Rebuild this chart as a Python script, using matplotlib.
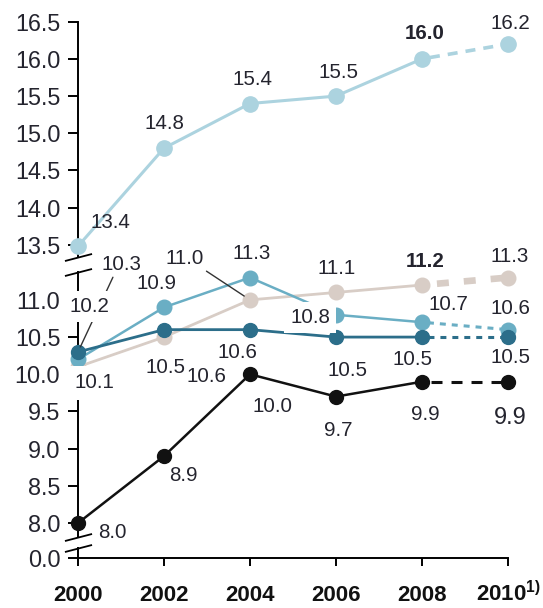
import numpy as np
import matplotlib
matplotlib.use('Agg')
import matplotlib.pyplot as plt

plt.rcParams['font.family'] = ['Liberation Sans', 'DejaVu Sans']
plt.rcParams['mathtext.fontset'] = 'custom'
plt.rcParams['mathtext.rm'] = 'Liberation Sans'
plt.rcParams['mathtext.bf'] = 'Liberation Sans:bold'
plt.rcParams['lines.scale_dashes'] = False

years = [2000, 2002, 2004, 2006, 2008, 2010]
year_labels = ['2000', '2002', '2004', '2006', '2008', r'2010$^{\mathbf{1)}}$']
yticks = [0.0, 8.0, 8.5, 9.0, 9.5, 10.0, 10.5, 11.0,
          13.5, 14.0, 14.5, 15.0, 15.5, 16.0, 16.5]

light = [13.4, 14.8, 15.4, 15.5, 16.0, 16.2]
mid = [10.2, 10.9, 11.3, 10.8, 10.7, 10.6]
dark = [10.3, 10.6, 10.6, 10.5, 10.5, 10.5]
beige = [10.1, 10.5, 11.0, 11.1, 11.2, 11.3]
black = [8.0, 8.9, 10.0, 9.7, 9.9, 9.9]

# label offsets in pixels (dx, dy) from each point
light_off = [(32, 26), (0, 27), (2, 26), (2, 26), (3, 27), (2, 23)]
mid_off = [(11, 55), (-8, 26), (2, 26), (-26, -1), (26, 20), (2, 23)]
dark_off = [(43, 89), (42, -45), (-13, -21), (11, -31), (-10, -20), (2, -18)]
beige_off = [(16, -14), (1, -28), (-65, 43), (1, 26), (3, 26), (2, 23)]
black_off = [(34, -7), (19, -17), (22, -30), (2, -32), (3, -31), (2, -34)]

C_LIGHT = '#acd3df'
C_MID = '#6aaec4'
C_DARK = '#2c6e8a'
C_BEIGE = '#d8cdc6'
C_BLACK = '#111111'
TXT = '#24242e'

# broken axis: squeeze 0..8 and 11.35..13.5
brk_in = [-50, 0, 8, 11.35, 13.5, 60]
brk_out = [7.53 - 50 * 0.0588, 7.53, 8, 11.35, 11.74, 11.74 + 46.5]


def fwd(v):
    return np.interp(v, brk_in, brk_out)


def inv(v):
    return np.interp(v, brk_out, brk_in)


fig = plt.figure(figsize=(5.43, 6.08), dpi=100)
ax = fig.add_axes([78 / 543, 50 / 608, 430 / 543, 536.3 / 608])
ax.set_yscale('function', functions=(fwd, inv))
ax.set_xlim(2000, 2010)
ax.set_ylim(0, 16.5)

for s in ['top', 'right', 'left']:
    ax.spines[s].set_visible(False)
ax.spines['bottom'].set_linewidth(1.4)

# left axis line in pieces with break marks
for a, b in [(16.5, 12.61), (11.5, 4.8), (2.3, 0.0)]:
    ax.plot([2000, 2000], [a, b], color='black', lw=1.4, clip_on=False, zorder=1)
brk = [(-1, -0.26), (1, 0.26)]
for yb in [12.61, 11.5, 4.8, 2.3]:
    ax.plot([2000], [yb], marker=brk, ms=19.5, mec='black', mew=1.3,
            ls='none', clip_on=False, zorder=1)

ax.set_yticks(yticks)
ax.set_yticklabels([f'{t:.1f}' for t in yticks])
ax.set_xticks(years)
ax.set_xticklabels(year_labels, fontweight='bold')
ax.tick_params(axis='y', direction='out', length=7.2, width=1.4, pad=5.5,
               labelsize=16.8, labelcolor=TXT)
ax.tick_params(axis='x', direction='out', length=5.8, width=1.4, pad=25.5,
               labelsize=16, labelcolor='#111111')
for t in ax.get_xticklabels():
    t.set_va('baseline')


def series(vals, color, lw, ms, dlw, dash, z):
    ax.plot(years[:5], vals[:5], color=color, lw=lw, marker='o', ms=ms,
            mec=color, clip_on=False, zorder=z)
    ax.plot(years[4:], vals[4:], color=color, lw=dlw,
            ls=(dash[0], dash), clip_on=False, zorder=z - 0.05)
    ax.plot(years[5:], vals[5:], color=color, marker='o', ms=ms, mec=color,
            ls='none', clip_on=False, zorder=z)


series(beige, C_BEIGE, 2.0, 10.5, 4.8, (8.6, 10.8), 2.0)
series(light, C_LIGHT, 2.2, 11.0, 2.6, (7.2, 5.8), 2.1)
series(mid, C_MID, 1.8, 10.5, 2.2, (4.3, 4.3), 2.2)
series(dark, C_DARK, 2.0, 10.0, 2.2, (4.3, 4.3), 2.3)
series(black, C_BLACK, 1.8, 10.0, 2.2, (7.9, 6.5), 2.4)

box = dict(boxstyle='square,pad=0.3', fc='white', ec='none')


def label(x, y, dxdy, size=14.8, weight='normal', z=6, **kw):
    ax.annotate(f'{y:.1f}', (x, y), xytext=dxdy, textcoords='offset pixels',
                ha='center', va='center_baseline', fontsize=size,
                fontweight=weight, color=TXT, zorder=z,
                annotation_clip=False, **kw)


leader = dict(arrowstyle='-', color='#333333', lw=1.0, shrinkA=0, shrinkB=4)

for i, yr in enumerate(years):
    label(yr, light[i], light_off[i], weight='bold' if yr == 2008 else 'normal')

    if yr == 2000:
        label(yr, mid[i], mid_off[i], bbox=box, z=7)
    elif yr == 2006:
        label(yr, mid[i], mid_off[i], bbox=box)
    else:
        label(yr, mid[i], mid_off[i])

    if yr == 2000:
        label(yr, dark[i], dark_off[i], z=5,
              arrowprops=dict(leader, relpos=(0.33, 0.0)))
    else:
        label(yr, dark[i], dark_off[i])

    if yr == 2000:
        label(yr, beige[i], beige_off[i],
              bbox=dict(boxstyle='square,pad=0.35', fc='white', ec='none'))
    elif yr == 2004:
        label(yr, beige[i], beige_off[i],
              arrowprops=dict(leader, relpos=(0.95, 0.0), shrinkB=5))
    else:
        label(yr, beige[i], beige_off[i],
              weight='bold' if yr == 2008 else 'normal')

    label(yr, black[i], black_off[i], size=17 if yr == 2010 else 14.8)

fig.savefig('out.png', dpi=100)
